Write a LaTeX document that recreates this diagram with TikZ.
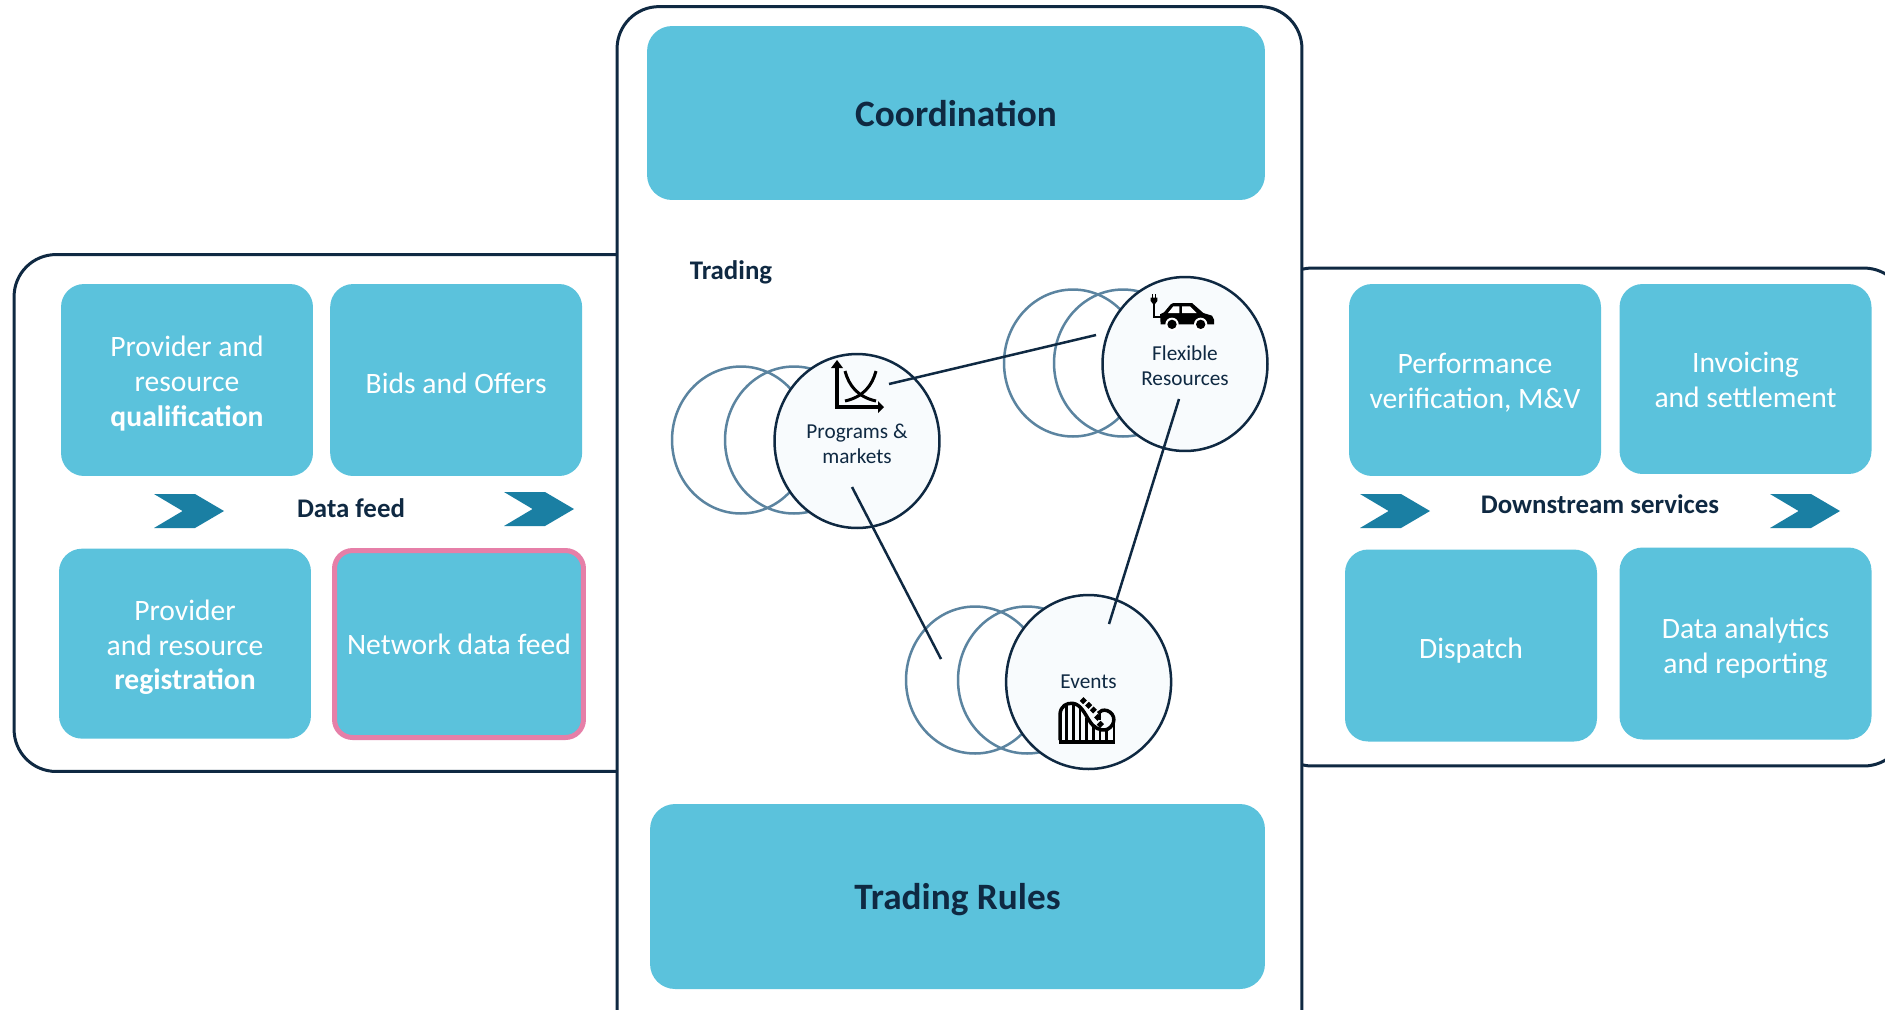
\documentclass[tikz,border=0pt]{standalone}
\usepackage{fontspec}
\setmainfont{Carlito}
\usetikzlibrary{positioning,shapes.geometric}
\definecolor{frameink}{RGB}{15,41,66}
\definecolor{boxteal}{RGB}{91,194,220}
\definecolor{chevronblue}{RGB}{26,127,163}
\definecolor{netpink}{RGB}{230,127,168}
\definecolor{ghostblue}{RGB}{91,132,160}
\definecolor{roundfill}{RGB}{248,251,253}
\tikzset{
    chevronmark/.pic={\fill[chevronblue] (0,0) -- (41,0) -- (70,17) -- (41,34) -- (0,34) -- (28.6,17) -- cycle;},
    lowered/.style={execute at begin node={\rule{0pt}{#1}}}
}

\begin{document}
\begin{tikzpicture}[
    x=0.02cm, y=-0.02cm,
    frame/.style={rectangle, draw=frameink, line width=0.06cm, fill=white, rounded corners=0.84cm, inner sep=0pt},
    tealbox/.style={rectangle, rounded corners=0.46cm, fill=boxteal, minimum width=5.04cm, minimum height=3.84cm, inner sep=0pt, text=white, align=center, font=\fontsize{16.85}{19.8}\selectfont},
    boxtext/.style={inner sep=0pt, text=white, align=center, font=\fontsize{16.85}{19.8}\selectfont},
    bigbox/.style={rectangle, rounded corners=0.5cm, fill=boxteal, inner sep=0pt, text=frameink, text depth=0pt, font=\fontsize{21.2}{26}\selectfont\bfseries},
    heading/.style={text=frameink, inner sep=0pt, text depth=0pt, font=\fontsize{15.3}{18}\selectfont\bfseries},
    ghost/.style={ellipse, draw=ghostblue, line width=0.05cm, minimum width=2.76cm, minimum height=2.94cm, inner sep=0pt},
    round/.style={ellipse, draw=frameink, line width=0.05cm, fill=roundfill, minimum width=3.3cm, minimum height=3.48cm, inner sep=0pt, text=frameink, align=center, font=\fontsize{12.1}{14.4}\selectfont},
    roundtext/.style={inner sep=0pt, text=frameink, align=center, font=\fontsize{12.1}{14.4}\selectfont},
    link/.style={frameink, line width=0.05cm}
]
\clip (0,0) rectangle (1885,1009);

% Side frames
\node (leftframe) [frame, minimum width=16cm, minimum height=10.34cm] at (414,513) {};
\node (rightframe) [frame, minimum width=12.72cm, minimum height=9.96cm] at (1588,517) {};

% Data feed
\node (qual) [tealbox, label={[boxtext, yshift=-0.072cm]center:{Provider and\\resource\\\textbf{qualification}}}] at (187,380) {};
\node (bids) [tealbox, lowered=15pt, right=0.33cm of qual] {Bids and Offers};
\node (reg) [tealbox, below=1.44cm of qual, xshift=-0.04cm, minimum height=3.8cm, label={[boxtext, yshift=-0.072cm]center:{Provider\\and resource\\\textbf{registration}}}] {};
\node (network) [tealbox, draw=netpink, line width=0.1cm, rounded corners=0.36cm, minimum width=4.98cm, minimum height=3.74cm] at (459,644) {Network data feed};
\node (datafeed) [heading] at (351,508) {Data feed};
\pic at (154,494) {chevronmark};
\pic at (504,492) {chevronmark};

% Downstream services
\node (perf) [tealbox, label={[boxtext, yshift=-0.06cm]center:{Performance\\verification, M\&V}}] at (1475,380) {};
\node (invoice) [tealbox, minimum height=3.8cm, label={[boxtext, yshift=-0.025cm]center:{Invoicing\\and settlement}}] at (1745.5,379) {};
\node (dispatch) [tealbox, lowered=18pt] at (1471,645.5) {Dispatch};
\node (analytics) [tealbox, label={[boxtext, yshift=-0.09cm]center:{Data analytics\\and reporting}}] at (1745.5,643.5) {};
\node (downstream) [heading] at (1600,504) {Downstream services};
\pic at (1360,494) {chevronmark};
\pic at (1770,494) {chevronmark};

% Centre frame
\node (midframe) [frame, minimum width=13.7cm, minimum height=20.86cm] at (959.5,528) {};
\node (coord) [bigbox, minimum width=12.36cm, minimum height=3.48cm] at (956,113) {Coordination};
\node (rules) [bigbox, minimum width=12.3cm, minimum height=3.7cm] at (957.5,896.5) {Trading Rules};
\node (trading) [heading] at (731,270) {Trading};

% Programs
\node (progback) [ghost] at (741,440) {};
\node (progmid) [ghost] at (794,440) {};
\node (programs) [round, label={[roundtext, yshift=-0.05cm]center:{Programs \&\\markets}}] at (857,441) {};

% Resources
\node (flexback) [ghost] at (1073,363) {};
\node (flexmid) [ghost] at (1123,363) {};
\node (flexible) [round, label={[roundtext, yshift=-0.035cm]center:{Flexible\\Resources}}] at (1185,364) {};

% Events
\node (eventback) [ghost] at (975,680) {};
\node (eventmid) [ghost] at (1027,680) {};
\node (events) [round] at (1088.6,682) {Events};

% Connections
\coordinate (progright) at (889,384);
\coordinate (flexleft) at (1096,335);
\coordinate (flexlow) at (1179,399);
\coordinate (eventtop) at (1109,624);
\coordinate (proglow) at (852,487);
\coordinate (eventleft) at (941,659);
\draw[link] (progright) -- (flexleft);
\draw[link] (flexlow) -- (eventtop);
\draw[link] (proglow) -- (eventleft);

% Chart icon
\draw[black, line width=0.07cm] (837,366) -- (837,407) -- (880,407);
\fill[black] (831,368) -- (837,360) -- (843,368) -- cycle;
\fill[black] (878,401) -- (884,407) -- (878,413) -- cycle;
\draw[black, line width=0.06cm] (845,371) .. controls (849,386) and (858,397) .. (876,401);
\draw[black, line width=0.06cm] (876,371) .. controls (872,386) and (863,397) .. (845,401);

% Car icon
\begin{scope}[shift={(1138,285)}, x=0.00667cm, y=-0.00667cm]
\fill[black] (68,118) -- (66,88) -- (78,82) -- (98,58) -- (106,54) -- (162,54) -- (196,84) -- (222,92) -- (228,104) -- (228,118) -- cycle;
\fill[white] (106,64) -- (124,64) -- (124,84) -- (90,84) -- cycle;
\fill[white] (132,64) -- (156,64) -- (176,84) -- (132,84) -- cycle;
\fill[white] (102,118) circle (20);
\fill[white] (188,118) circle (20);
\fill[black] (102,118) circle (14);
\fill[black] (188,118) circle (14);
\draw[black, line width=0.05cm] (48,50) -- (48,96) -- (68,96);
\fill[black] (38,38) -- (58,38) -- (58,48) -- (50,58) -- (46,58) -- (38,48) -- cycle;
\fill[black] (41,28) rectangle (45,38);
\fill[black] (51,28) rectangle (55,38);
\end{scope}

% Coaster icon
\begin{scope}[shift={(1050,690)}, x=0.00667cm, y=-0.00667cm]
\fill[black] (28,150) rectangle (196,161);
\foreach \xpos/\ypos in {32/72,50/46,70/42,90/58,110/84,130/108,150/122,170/118,192/95}
    \draw[black, line width=0.055cm] (\xpos,150) -- (\xpos,\ypos);
\draw[black, line width=0.07cm] (30,150) -- (30,72) .. controls (32,48) and (50,38) .. (68,40) .. controls (92,42) and (105,72) .. (118,92) .. controls (130,112) and (150,125) .. (172,118) .. controls (198,105) and (198,72) .. (172,62) .. controls (160,58) and (150,62) .. (144,70);
\draw[black, line width=0.045cm] (150,90) -- (150,68);
\foreach \xpos/\ypos in {100/32,116/46,130/60,143/82,151/103}
    \fill[black, rotate around={45:(\xpos,\ypos)}] (\xpos-8,\ypos-7) rectangle (\xpos+8,\ypos+7);
\end{scope}
\end{tikzpicture}
\end{document}
